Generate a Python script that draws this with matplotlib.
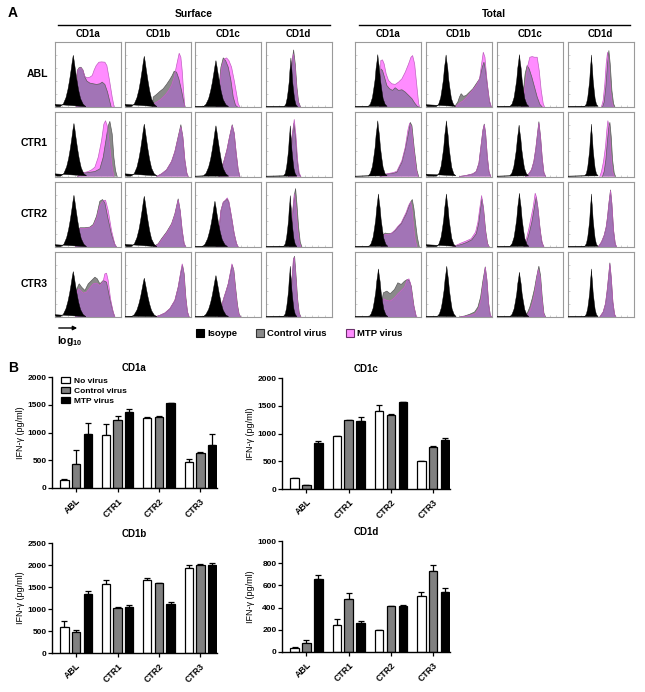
import matplotlib
matplotlib.use("Agg")
import matplotlib.pyplot as plt
import numpy as np
from matplotlib.patches import Rectangle

plt.rcParams['font.family'] = ['Liberation Sans', 'DejaVu Sans']
plt.rcParams['font.weight'] = 'bold'
plt.rcParams['mathtext.fontset'] = 'custom'
plt.rcParams['mathtext.rm'] = 'Liberation Sans:bold'
plt.rcParams['mathtext.bf'] = 'Liberation Sans:bold'
plt.rcParams['mathtext.it'] = 'Liberation Sans:bold'

# ---------------- data : panel A (histogram outlines, channel:count knots) ----------------
samples = ["ABL", "CTR1", "CTR2", "CTR3"]
markers = ["CD1a", "CD1b", "CD1c", "CD1d"]

surface_iso = [
    ["0:8 2:3 5:1 15:1 17:2 25:9 33:28 39:53 44:81 49:115 52:137 55:156 58:137 61:115 66:81 71:51 77:25 85:8 93:1",
     "0:8 2:3 5:1 18:1 20:2 28:9 36:28 42:52 47:80 52:113 55:135 58:153 61:135 64:113 69:80 74:50 80:24 88:8 96:1",
     "0:1 25:1 33:8 41:25 47:48 52:73 57:104 60:123 63:140 66:123 69:104 74:73 79:46 85:22 93:7 101:1",
     "0:1 55:1 60:9 64:27 67:50 70:77 72:110 74:130 75:148 76:130 78:110 80:77 83:49 86:24 90:7 95:1"],
    ["0:8 2:3 5:1 17:1 19:2 27:10 35:29 41:54 46:83 51:118 54:141 57:160 60:141 63:118 68:83 73:53 79:26 87:8 95:2",
     "0:8 2:3 5:1 18:1 20:2 28:9 36:28 42:54 47:82 52:117 55:139 58:158 61:139 64:117 69:82 74:52 80:25 88:8 96:2",
     "0:1 25:2 33:9 41:28 47:52 52:80 57:113 60:135 63:153 66:135 69:113 74:80 79:50 85:24 93:8 101:1",
     "0:1 53:2 58:9 62:28 65:52 68:80 70:113 72:135 73:153 74:135 76:113 78:80 81:50 84:24 88:8 93:1"],
    ["0:7 2:3 5:1 17:1 19:2 27:9 35:28 41:53 46:81 51:115 54:137 57:156 60:137 63:115 68:81 73:51 79:25 87:8 95:1",
     "0:8 2:3 5:1 18:1 20:2 28:9 36:28 42:52 47:80 52:113 55:135 58:153 61:135 64:113 69:80 74:50 80:24 88:8 96:1",
     "0:1 22:1 30:8 38:25 44:47 49:71 54:101 57:121 60:138 63:121 66:101 71:71 76:45 82:22 90:7 98:1",
     "0:1 53:2 58:9 62:28 65:53 68:81 70:115 72:136 73:155 74:136 76:115 78:81 81:51 84:25 88:8 93:1"],
    ["0:7 2:3 5:1 15:1 17:1 25:8 33:25 39:47 44:71 49:101 52:121 55:137 58:121 61:101 66:71 71:45 77:22 85:7 93:1",
     "0:2 20:1 28:7 36:21 42:40 47:61 52:87 55:103 58:117 61:103 64:87 69:61 74:39 80:19 88:6 96:1",
     "0:1 25:1 33:8 41:23 47:43 52:65 57:93 60:110 63:125 66:110 69:93 74:65 79:41 85:20 93:6 101:1",
     "0:1 53:2 58:9 62:28 65:52 68:80 70:113 72:135 73:153 74:135 76:113 78:80 81:50 84:24 88:8 93:1"],
]
surface_ctrl = [
    ["64:0 67:110 72:118 78:120 84:112 90:90 96:78 105:72 115:70 125:68 135:70 142:75 150:68 158:45 164:20 169:0",
     "82:0 85:30 95:38 105:47 115:55 125:68 135:83 142:95 148:108 155:105 162:85 170:50 176:20 181:0",
     "65:0 72:60 78:120 85:148 92:140 100:120 108:80 115:30 122:5 128:0",
     "66:0 72:40 77:120 83:172 88:130 93:60 98:15 104:0"],
    ["68:0 80:10 100:12 120:15 135:23 145:58 153:108 160:153 165:166 172:128 177:58 182:18 187:0",
     "95:0 110:8 125:20 140:45 150:75 160:120 168:156 174:120 180:50 186:10 190:0",
     "72:0 80:20 88:50 96:80 104:120 112:156 118:130 124:70 130:20 135:0",
     "68:0 74:40 79:120 84:160 89:120 94:50 99:10 104:0"],
    ["62:0 68:40 75:58 90:58 105:60 115:68 125:93 135:138 143:143 150:133 160:83 170:38 180:8 185:0",
     "85:0 100:10 110:25 125:45 140:70 150:100 160:145 166:110 172:50 178:10 183:0",
     "65:0 72:50 78:110 85:135 92:140 97:145 102:135 110:90 118:40 125:10 130:0",
     "70:0 76:40 81:110 86:160 89:176 93:130 98:60 103:15 108:0"],
    ["62:0 65:80 70:95 73:100 80:90 90:80 100:100 110:110 120:120 127:115 135:100 145:110 155:105 165:55 175:15 180:0",
     "90:0 105:5 120:12 135:25 150:50 160:90 168:135 173:157 178:130 183:60 188:15 193:0",
     "70:0 78:25 86:55 94:80 100:100 106:130 112:157 117:140 122:90 128:35 133:8 138:0",
     "68:0 74:40 79:120 83:175 86:183 90:130 95:55 100:12 105:0"],
]
surface_mtp = [
    ["64:0 67:108 72:116 78:118 84:110 90:92 96:88 105:90 112:95 118:112 124:125 132:135 140:136 150:135 156:125 164:80 172:30 178:0",
     "84:0 90:12 100:18 110:25 120:35 130:48 140:65 148:90 155:125 163:162 168:150 172:110 176:50 180:0",
     "66:0 74:60 80:120 88:145 95:148 102:140 110:120 118:80 125:40 130:10 135:0",
     "66:0 72:45 77:125 82:160 87:125 92:55 97:15 103:0"],
    ["68:0 80:10 100:15 110:20 120:28 130:58 140:108 147:158 152:168 157:153 165:88 172:28 177:0",
     "95:0 110:8 125:20 140:45 150:75 160:118 168:150 174:118 180:50 186:10 190:0",
     "72:0 80:20 88:50 96:80 104:120 112:154 118:130 124:70 130:20 135:0",
     "68:0 74:45 79:125 85:172 90:125 95:50 100:10 105:0"],
    ["62:0 68:40 75:56 90:56 105:58 115:64 125:85 135:125 145:140 152:141 160:110 170:50 180:8 185:0",
     "87:0 100:8 110:22 125:42 140:67 150:97 160:142 166:108 172:50 178:10 183:0",
     "65:0 72:50 78:110 85:135 92:142 97:148 102:137 110:90 118:40 125:10 130:0",
     "70:0 76:45 81:115 85:160 90:125 95:55 100:15 105:0"],
    ["62:0 65:70 70:85 75:82 85:72 95:75 105:88 115:100 125:102 135:95 145:108 150:130 155:132 160:110 167:55 175:15 180:0",
     "90:0 105:5 120:12 135:25 150:50 160:90 168:138 172:160 177:132 182:60 188:15 193:0",
     "70:0 78:25 86:55 94:80 100:100 106:132 111:160 116:142 121:90 127:35 132:8 137:0",
     "68:0 74:40 79:120 82:170 85:180 89:130 94:55 99:12 104:0"],
]
total_iso = [
    ["0:1 40:2 46:9 52:28 56:54 60:82 63:117 66:139 68:158 70:139 73:117 76:82 80:52 84:25 90:8 96:2",
     "0:7 2:3 5:1 30:1 32:2 38:9 44:28 48:54 52:82 55:117 58:139 60:157 62:139 65:117 68:82 72:52 76:25 82:8 88:2",
     "0:1 39:2 45:9 51:28 55:54 59:82 62:117 65:139 67:158 69:139 72:117 75:82 79:52 83:25 89:8 95:2",
     "0:1 50:2 55:9 59:28 62:54 65:82 67:117 69:139 70:157 71:139 73:117 75:82 78:52 81:25 85:8 90:2"],
    ["0:1 40:2 46:10 52:30 56:57 60:87 63:124 66:148 68:168 70:148 73:124 76:87 80:55 84:27 90:8 96:2",
     "0:7 2:3 5:1 31:1 33:2 39:10 45:30 49:57 53:87 56:124 59:148 61:168 63:148 66:124 69:87 73:55 77:27 83:8 89:2",
     "0:1 38:2 44:9 50:28 54:53 58:81 61:115 64:136 66:155 68:136 71:115 74:81 78:51 82:25 88:8 94:2",
     "0:1 50:2 55:9 59:28 62:54 65:82 67:117 69:139 70:158 71:139 73:117 75:82 78:52 81:25 85:8 90:2"],
    ["0:1 42:2 48:10 54:29 58:54 62:83 65:118 68:141 70:160 72:141 75:118 78:83 82:53 86:26 92:8 98:2",
     "0:7 2:3 5:1 31:1 33:2 39:10 45:29 49:54 53:83 56:118 59:141 61:160 63:141 66:118 69:83 73:53 77:26 83:8 89:2",
     "0:1 39:2 45:10 51:29 55:55 59:84 62:120 65:143 67:162 69:143 72:120 75:84 79:53 83:26 89:8 95:2",
     "0:1 50:2 55:10 59:29 62:54 65:83 67:118 69:141 70:160 71:141 73:118 75:83 78:53 81:26 85:8 90:2"],
    ["0:1 42:1 48:9 54:26 58:49 62:75 65:107 68:128 70:145 72:128 75:107 78:75 82:48 86:23 92:7 98:1",
     "0:2 34:2 40:9 46:28 50:52 54:80 57:113 60:135 62:153 64:135 67:113 70:80 74:50 78:24 84:8 90:1",
     "0:1 39:1 45:8 51:24 55:46 59:70 62:100 65:119 67:135 69:119 72:100 75:70 79:45 83:22 89:7 95:1",
     "0:1 50:1 55:9 59:26 62:49 65:75 67:107 69:128 70:145 71:128 73:107 75:75 78:48 81:23 85:7 90:1"],
]
total_ctrl = [
    ["74:0 77:115 82:110 88:90 95:65 103:55 112:50 120:58 130:50 140:52 150:45 160:35 170:25 178:12 185:3 190:0",
     "85:0 95:15 100:30 105:40 112:32 120:35 130:45 140:55 150:70 160:85 168:120 173:135 178:110 184:60 190:15 195:0",
     "72:0 78:40 84:100 90:125 96:115 104:90 112:60 120:30 128:8 135:0",
     "103:0 108:15 113:60 118:130 122:170 126:130 131:50 136:10 140:0"],
    ["75:0 85:5 100:8 115:10 125:13 140:43 150:83 160:133 165:163 170:153 177:83 185:18 190:0",
     "100:0 120:3 140:8 150:15 158:40 164:90 170:140 174:158 178:130 183:60 188:15 193:0",
     "85:0 95:8 103:20 110:45 116:85 121:130 125:165 130:120 135:55 140:12 145:0",
     "103:0 108:15 113:50 118:110 122:150 125:163 129:120 133:50 138:10 142:0"],
    ["78:0 83:35 90:42 100:40 110:42 120:50 128:60 138:70 145:85 153:100 160:120 166:135 171:143 176:115 181:70 186:30 192:0",
     "82:0 92:4 107:8 122:14 137:22 150:40 157:70 162:110 167:145 172:115 178:50 184:10 189:0",
     "82:0 90:20 97:45 104:75 110:110 117:150 122:120 128:60 134:15 140:0",
     "90:0 100:15 108:35 114:60 118:90 122:130 127:172 131:130 136:50 141:10 145:0"],
    ["75:0 80:50 85:73 95:78 105:70 118:83 128:103 138:98 148:108 156:113 162:110 168:93 176:33 183:0",
     "100:0 115:3 130:8 145:15 155:30 163:60 170:110 177:151 182:110 187:40 192:5 196:0",
     "80:0 90:10 98:30 105:55 112:85 118:120 125:153 130:125 135:60 140:12 145:0",
     "95:0 105:15 112:40 117:80 121:120 125:163 129:120 134:45 139:8 143:0"],
]
total_mtp = [
    ["74:0 77:140 82:142 87:130 93:100 100:80 110:70 120:68 130:75 140:85 150:105 160:130 167:150 172:155 178:130 184:70 190:10 193:0",
     "88:0 100:12 110:18 120:28 130:40 140:52 150:65 160:85 166:130 171:165 176:150 182:80 188:25 195:0",
     "74:0 80:35 86:80 92:125 98:150 105:152 112:150 120:150 126:110 132:50 138:10 142:0",
     "100:0 105:20 110:70 114:130 118:165 122:130 127:50 132:10 136:0"],
    ["75:0 85:6 100:9 115:12 125:16 140:48 150:88 158:140 163:160 168:150 175:83 183:18 188:0",
     "100:0 120:3 140:8 150:15 158:40 164:90 170:140 174:156 178:128 183:60 188:15 193:0",
     "85:0 95:8 103:20 110:45 116:85 121:128 125:161 130:118 135:55 140:12 145:0",
     "95:0 100:15 106:45 112:90 116:140 119:168 123:150 128:70 133:15 138:0"],
    ["78:0 83:32 90:38 100:38 110:42 120:52 128:62 138:73 145:88 153:105 160:125 166:136 170:115 175:60 180:20 185:0",
     "80:0 90:5 105:12 120:18 135:25 148:45 155:75 161:120 166:155 171:120 177:50 183:10 188:0",
     "80:0 88:25 95:55 102:90 108:120 114:162 118:150 124:100 130:40 136:8 140:0",
     "90:0 100:15 108:35 114:60 118:90 122:130 127:170 131:130 136:50 141:10 145:0"],
    ["75:0 80:40 85:55 95:50 105:48 118:58 128:70 138:80 148:90 156:112 161:115 166:100 174:40 182:5 185:0",
     "102:0 117:2 132:5 147:10 157:25 165:55 171:105 177:150 182:110 187:40 192:5 196:0",
     "82:0 92:8 100:22 107:45 113:75 118:110 123:143 129:120 134:55 139:10 144:0",
     "95:0 105:15 112:40 117:80 121:120 125:160 129:120 134:45 139:8 143:0"],
]

# ---------------- data : panel B (IFN-gamma, pg/ml) ----------------
groups = ["ABL", "CTR1", "CTR2", "CTR3"]
series_labels = ["No virus", "Control virus", "MTP virus"]

cd1a_no, cd1a_no_err = [150, 950, 1270, 460], [10, 210, 10, 60]
cd1a_ctrl, cd1a_ctrl_err = [440, 1220, 1280, 630], [240, 70, 10, 25]
cd1a_mtp, cd1a_mtp_err = [975, 1365, 1540, 780], [195, 50, 0, 195]

cd1c_no, cd1c_no_err = [190, 950, 1400, 500], [0, 10, 110, 10]
cd1c_ctrl, cd1c_ctrl_err = [70, 1240, 1340, 760], [5, 10, 20, 15]
cd1c_mtp, cd1c_mtp_err = [830, 1220, 1570, 890], [30, 70, 0, 20]

cd1b_no, cd1b_no_err = [600, 1560, 1660, 1930], [130, 110, 40, 60]
cd1b_ctrl, cd1b_ctrl_err = [480, 1030, 1580, 2010], [40, 20, 10, 20]
cd1b_mtp, cd1b_mtp_err = [1350, 1040, 1120, 2010], [60, 50, 30, 30]

cd1d_no, cd1d_no_err = [40, 240, 195, 505], [5, 60, 0, 33]
cd1d_ctrl, cd1d_ctrl_err = [85, 475, 410, 730], [20, 60, 8, 57]
cd1d_mtp, cd1d_mtp_err = [660, 262, 415, 545], [35, 18, 5, 28]

# ---------------- styling ----------------
W, H = 645, 692
fig = plt.figure(figsize=(W / 100, H / 100), dpi=100)

GRAY = '#8a8a8a'
GRAY_EDGE = '#5a5a5a'
PINK = '#ff8cff'
PINK_EDGE = '#c060c0'
PURPLE = '#a274b6'


def ax_px(x0, y0, x1, y1):
    return fig.add_axes([x0 / W, 1 - y1 / H, (x1 - x0) / W, (y1 - y0) / H])


def parse(s):
    pts = [p.split(':') for p in s.split()]
    return np.array([float(a) for a, b in pts]), np.array([float(b) for a, b in pts])


def draw_hist(ax, iso, ctrl, mtp):
    cx, cy = parse(ctrl)
    mx, my = parse(mtp)
    ix, iy = parse(iso)
    gpatch = ax.fill(cx, cy, color=GRAY, lw=0, zorder=1)[0]
    ax.fill(mx, my, color=PINK, lw=0, zorder=2)
    over = ax.fill(mx, my, color=PURPLE, lw=0, zorder=3)[0]
    over.set_clip_path(gpatch)
    ax.plot(cx, cy, color=GRAY_EDGE, lw=0.5, zorder=4)
    ax.plot(mx, my, color=PINK_EDGE, lw=0.5, zorder=4)
    ax.fill(ix, iy, color='black', lw=0.3, zorder=5)
    ax.set_xlim(0, 197)
    ax.set_ylim(0, 196)
    for s in ax.spines.values():
        s.set_color('#9a9a9a')
        s.set_linewidth(0.8)
    ax.set_xticks(np.arange(0, 197, 19.7))
    ax.set_yticks(np.arange(0, 196, 39))
    ax.tick_params(direction='in', length=1.5, width=0.4, colors='#b0b0b0',
                   labelbottom=False, labelleft=False)


# overlay axes for free text
ov = fig.add_axes([0, 0, 1, 1])
ov.set_xlim(0, W)
ov.set_ylim(H, 0)
ov.axis('off')

surf_left = [55, 125, 195, 266]
tot_left = [355, 426, 497, 568]
row_top = [42, 111.5, 182, 252]
BW, BH = 65.5, 65

for r in range(4):
    for c in range(4):
        a = ax_px(surf_left[c], row_top[r], surf_left[c] + BW, row_top[r] + BH)
        draw_hist(a, surface_iso[r][c], surface_ctrl[r][c], surface_mtp[r][c])
        b = ax_px(tot_left[c], row_top[r], tot_left[c] + BW + 0.5, row_top[r] + BH)
        draw_hist(b, total_iso[r][c], total_ctrl[r][c], total_mtp[r][c])

FS = 7.5
ov.text(8, 13, "A", fontsize=10, fontweight='bold', va='center')
ov.text(8, 368, "B", fontsize=10, fontweight='bold', va='center')
ov.text(194, 14, "Surface", fontsize=FS, ha='center', va='center')
ov.plot([58, 330], [25, 25], color='black', lw=1)
ov.text(494, 14, "Total", fontsize=FS, ha='center', va='center')
ov.plot([359, 630], [25, 25], color='black', lw=1)
for c in range(4):
    ov.text(surf_left[c] + BW / 2, 34, markers[c], fontsize=7, ha='center', va='center')
    ov.text(tot_left[c] + BW / 2, 34, markers[c], fontsize=7, ha='center', va='center')
for r in range(4):
    ov.text(48, row_top[r] + 32, samples[r], fontsize=FS, ha='right', va='center')

# log10 arrow + legend
ov.annotate("", xy=(80, 328), xytext=(56, 328),
            arrowprops=dict(arrowstyle='-|>', color='black', lw=1.0, mutation_scale=6))
ov.text(57, 341, r"log$_{10}$", fontsize=7.5, ha='left', va='center')
leg_items = [(196, 'black', 'black', "Isoype"), (256, GRAY, '#333333', "Control virus"),
             (346, PINK, '#6a306a', "MTP virus")]
for x0, fc, ec, lab in leg_items:
    ov.add_patch(Rectangle((x0, 329), 8, 8, facecolor=fc, edgecolor=ec, lw=0.8))
    ov.text(x0 + 11, 333.5, lab, fontsize=6.8, ha='left', va='center')


# ---------------- panel B ----------------
def bar_panel(rect, title, no, no_e, ct, ct_e, mt, mt_e, ymax, ystep, legend=False):
    ax = ax_px(*rect)
    x = np.arange(len(groups))
    w, off = 0.2, 0.28
    specs = [(no, no_e, 'white', -off, series_labels[0]),
             (ct, ct_e, '#808080', 0.0, series_labels[1]),
             (mt, mt_e, 'black', off, series_labels[2])]
    for vals, errs, col, dx, lab in specs:
        ax.bar(x + dx, vals, w, color=col, edgecolor='black', linewidth=0.9, label=lab, zorder=2)
        ax.errorbar(x + dx, vals, yerr=[np.zeros(len(vals)), errs], fmt='none', ecolor='black',
                    elinewidth=0.9, capsize=2, capthick=0.9, zorder=1)
    ax.set_xlim(-0.58, 3.4)
    ax.set_ylim(0, ymax)
    ax.set_yticks(np.arange(0, ymax + 1, ystep))
    ax.set_xticks(x)
    ax.set_xticklabels(groups, rotation=45, ha='right', rotation_mode='anchor', fontsize=6.3)
    ax.tick_params(axis='y', labelsize=6, length=3, width=0.9, pad=1)
    ax.tick_params(axis='x', length=3, width=0.9, pad=3)
    for s in ['top', 'right']:
        ax.spines[s].set_visible(False)
    for s in ['left', 'bottom']:
        ax.spines[s].set_linewidth(1.0)
    ax.set_ylabel("IFN-γ (pg/ml)", fontsize=6.5, labelpad=2)
    ax.set_title(title, fontsize=7, fontweight='bold', pad=4)
    if legend:
        ax.legend(loc='upper left', bbox_to_anchor=(0.03, 1.04), frameon=False, fontsize=6,
                  handlelength=1.1, handleheight=0.8, borderpad=0, labelspacing=0.25,
                  handletextpad=0.4)
    return ax


bar_panel((52, 377, 217, 488), "CD1a", cd1a_no, cd1a_no_err, cd1a_ctrl, cd1a_ctrl_err,
          cd1a_mtp, cd1a_mtp_err, 2000, 500, legend=True)
bar_panel((282, 378, 450, 489), "CD1c", cd1c_no, cd1c_no_err, cd1c_ctrl, cd1c_ctrl_err,
          cd1c_mtp, cd1c_mtp_err, 2000, 500)
bar_panel((52, 543, 217, 653), "CD1b", cd1b_no, cd1b_no_err, cd1b_ctrl, cd1b_ctrl_err,
          cd1b_mtp, cd1b_mtp_err, 2500, 500)
bar_panel((282, 541, 450, 652), "CD1d", cd1d_no, cd1d_no_err, cd1d_ctrl, cd1d_ctrl_err,
          cd1d_mtp, cd1d_mtp_err, 1000, 200)

fig.savefig("out.png", dpi=100)
